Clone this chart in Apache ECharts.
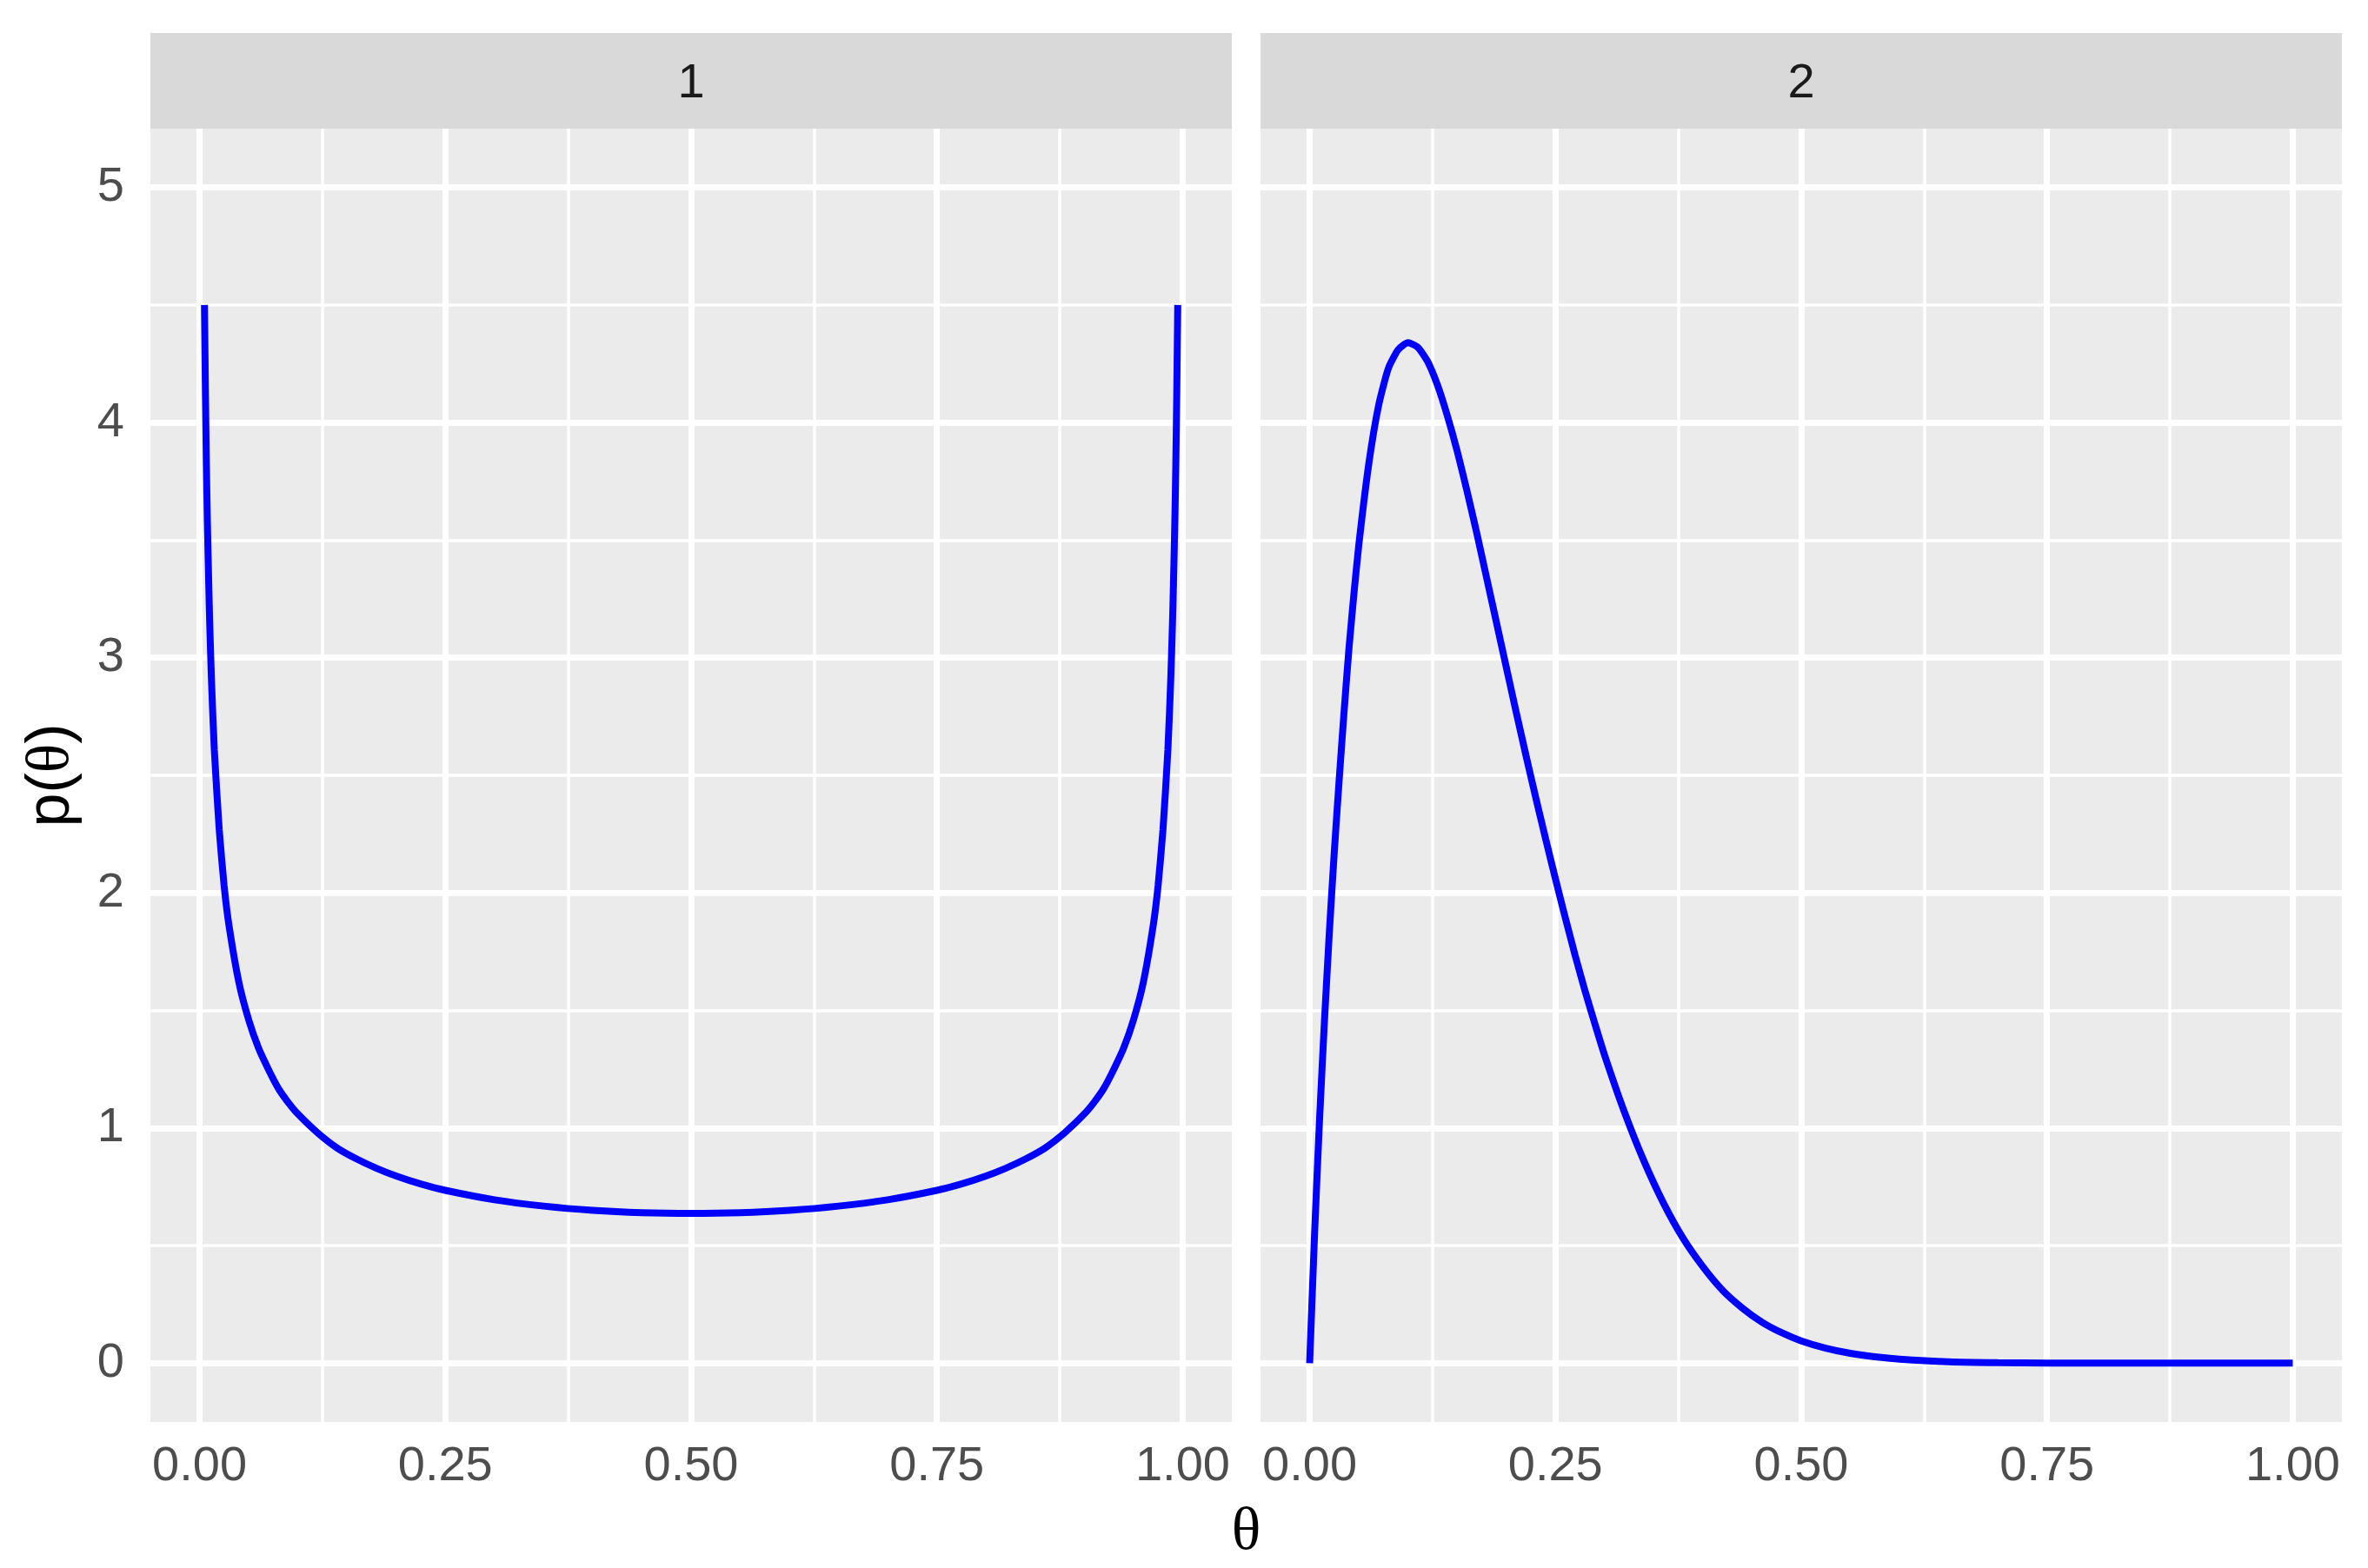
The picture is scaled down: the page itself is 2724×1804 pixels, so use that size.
<!DOCTYPE html>
<html>
<head>
<meta charset="utf-8">
<script src="https://cdn.jsdelivr.net/npm/echarts@6/dist/echarts.min.js"></script>
<style>
  html, body { margin: 0; padding: 0; background: #fff; }
  #chart { width: 2724px; height: 1804px; }
</style>
</head>
<body>
<div id="chart"></div>
<script>
  // facet 1 : U shaped density
  var theta1 = [0.005, 0.006, 0.007, 0.008, 0.01, 0.012, 0.015, 0.02, 0.025, 0.03, 0.04, 0.05,
    0.06, 0.07, 0.08, 0.09, 0.1, 0.12, 0.14, 0.16, 0.18, 0.2, 0.225, 0.25, 0.3, 0.35, 0.4, 0.45,
    0.5,
    0.55, 0.6, 0.65, 0.7, 0.75, 0.775, 0.8, 0.82, 0.84, 0.86, 0.88, 0.9, 0.91, 0.92, 0.93,
    0.94, 0.95, 0.96, 0.97, 0.975, 0.98, 0.985, 0.988, 0.99, 0.992, 0.993, 0.994, 0.995];
  var density1 = [4.50, 4.12, 3.81, 3.57, 3.20, 2.92, 2.61, 2.27, 2.03, 1.86, 1.62, 1.46,
    1.34, 1.25, 1.17, 1.11, 1.06, 0.98, 0.915, 0.868, 0.829, 0.796, 0.762, 0.735, 0.695, 0.668, 0.65, 0.64,
    0.637,
    0.64, 0.65, 0.668, 0.695, 0.735, 0.762, 0.796, 0.829, 0.868, 0.915, 0.98, 1.06, 1.11, 1.17, 1.25,
    1.34, 1.46, 1.62, 1.86, 2.03, 2.27, 2.61, 2.92, 3.20, 3.57, 3.81, 4.12, 4.50];

  // facet 2 : skewed density
  var theta2 = [0, 0.005, 0.01, 0.015, 0.02, 0.025, 0.03, 0.035, 0.04, 0.045, 0.05, 0.06,
    0.07, 0.08, 0.09, 0.1, 0.11, 0.12, 0.13, 0.14, 0.15, 0.16, 0.17, 0.18,
    0.19, 0.2, 0.21, 0.22, 0.23, 0.24, 0.25, 0.26, 0.27, 0.28, 0.29, 0.3,
    0.32, 0.34, 0.36, 0.38, 0.4, 0.42, 0.44, 0.46, 0.48, 0.5, 0.525, 0.55,
    0.575, 0.6, 0.65, 0.7, 0.75, 0.8, 0.9, 1.0];
  var density2 = [0, 0.55, 1.03, 1.45, 1.83, 2.17, 2.48, 2.77, 3.04, 3.27, 3.48, 3.82,
    4.07, 4.23, 4.31, 4.34, 4.32, 4.26, 4.16, 4.03, 3.88, 3.71, 3.53, 3.34,
    3.15, 2.96, 2.77, 2.585, 2.405, 2.23, 2.06, 1.895, 1.735, 1.585, 1.445, 1.31,
    1.07, 0.86, 0.68, 0.53, 0.41, 0.31, 0.235, 0.175, 0.13, 0.095, 0.064, 0.042,
    0.027, 0.017, 0.006, 0.002, 0.0005, 0, 0, 0];

  var panelLabels = ['1', '2'];
  var xTicks = [0, 0.25, 0.5, 0.75, 1];
  var xMinor = [0.125, 0.375, 0.625, 0.875];
  var yTicks = [0, 1, 2, 3, 4, 5];
  var yMinor = [0.5, 1.5, 2.5, 3.5, 4.5];

  var myChart = echarts.init(document.getElementById('chart'));

  var panelTop = 148, panelHeight = 1488, panelWidth = 1244, stripHeight = 110;
  var panelLefts = [173, 1450];
  var sans = 'Liberation Sans, Arial, Helvetica, sans-serif';
  var serif = 'Liberation Serif, Times New Roman, serif';

  function gridLines() {
    var major = {color: '#ffffff', width: 7, type: 'solid'};
    var minor = {color: '#ffffff', width: 3.5, type: 'solid'};
    var d = [];
    xMinor.forEach(function (v) { d.push({xAxis: v, lineStyle: minor}); });
    yMinor.forEach(function (v) { d.push({yAxis: v, lineStyle: minor}); });
    xTicks.forEach(function (v) { d.push({xAxis: v, lineStyle: major}); });
    yTicks.forEach(function (v) { d.push({yAxis: v, lineStyle: major}); });
    return d;
  }

  var grids = [], xAxes = [], yAxes = [], series = [], graphics = [];
  var curves = [[theta1, density1], [theta2, density2]];

  panelLefts.forEach(function (left, i) {
    grids.push({
      left: left, top: panelTop, width: panelWidth, height: panelHeight,
      show: true, backgroundColor: '#EBEBEB', borderWidth: 0, containLabel: false
    });
    xAxes.push({
      type: 'value', gridIndex: i, min: -0.05, max: 1.05,
      axisLine: {show: false},
      axisTick: {show: true, length: 17, customValues: xTicks, lineStyle: {color: '#333333', width: 7}},
      axisLabel: {
        show: true, customValues: xTicks, margin: 24,
        color: '#4D4D4D', fontSize: 56, fontFamily: sans,
        formatter: function (v) { return v.toFixed(2); }
      },
      splitLine: {show: false}
    });
    yAxes.push({
      type: 'value', gridIndex: i, min: -0.25, max: 5.25,
      axisLine: {show: false},
      axisTick: {show: i === 0, length: 17, customValues: yTicks, lineStyle: {color: '#333333', width: 7}},
      axisLabel: {
        show: i === 0, customValues: yTicks, margin: 30,
        color: '#4D4D4D', fontSize: 56, fontFamily: sans
      },
      splitLine: {show: false}
    });
    // 背景网格线 (precision 要放大, 否则 0.125 会被四舍五入)
    series.push({
      type: 'line', xAxisIndex: i, yAxisIndex: i, data: [], silent: true,
      markLine: {
        silent: true, symbol: 'none', z: 1, animation: false, precision: 6,
        label: {show: false},
        emphasis: {disabled: true},
        data: gridLines()
      }
    });
    var pts = curves[i][0].map(function (t, k) { return [t, curves[i][1][k]]; });
    series.push({
      type: 'line', xAxisIndex: i, yAxisIndex: i, data: pts, z: 3,
      showSymbol: false, smooth: 0.2,
      lineStyle: {color: '#0000FF', width: 8, cap: 'butt'},
      itemStyle: {color: '#0000FF'}
    });
    // strip
    graphics.push({
      type: 'rect', left: left, top: panelTop - stripHeight,
      shape: {width: panelWidth, height: stripHeight},
      style: {fill: '#D9D9D9'}
    });
    graphics.push({
      type: 'text', x: left + panelWidth / 2, y: panelTop - stripHeight / 2 + 4,
      style: {text: panelLabels[i], fill: '#1A1A1A', font: '56px ' + sans, align: 'center', verticalAlign: 'middle'}
    });
  });

  // axis titles
  graphics.push({
    type: 'text', x: (panelLefts[0] + panelLefts[1] + panelWidth) / 2, y: 1764,
    style: {text: 'θ', fill: '#000000', font: '70px ' + serif, align: 'center', verticalAlign: 'middle'}
  });
  graphics.push({
    type: 'text', x: 60, y: panelTop + panelHeight / 2, rotation: Math.PI / 2,
    style: {
      text: '{a|p(}{b|θ}{a|)}', align: 'center', verticalAlign: 'middle',
      rich: {
        a: {fontSize: 70, fontFamily: sans, fill: '#000000'},
        b: {fontSize: 70, fontFamily: serif, fill: '#000000'}
      }
    }
  });

  var option = {
    animation: false,
    backgroundColor: '#ffffff',
    grid: grids,
    xAxis: xAxes,
    yAxis: yAxes,
    series: series,
    graphic: graphics
  };
  myChart.setOption(option, true);
</script>
</body>
</html>
